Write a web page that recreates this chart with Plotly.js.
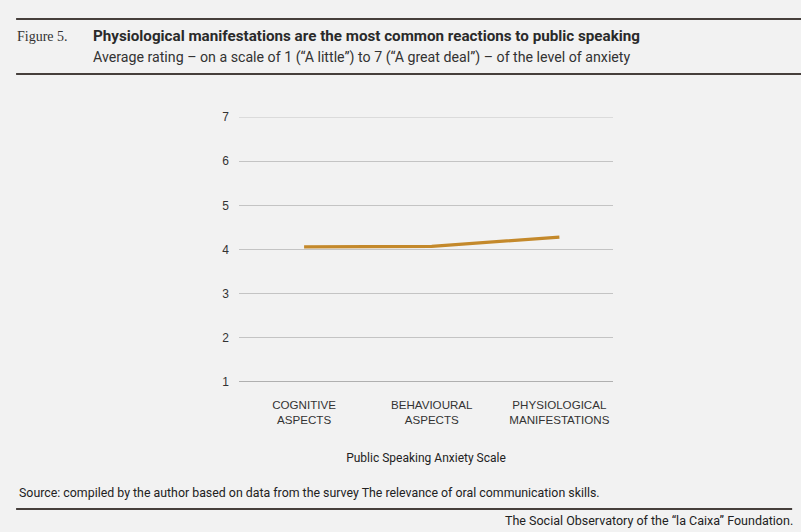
<!DOCTYPE html>
<html>
<head>
<meta charset="utf-8">
<script src="https://cdn.plot.ly/plotly-3.0.1.min.js"></script>
<style>
html,body{margin:0;padding:0;background:#f2f2f2;}
#chart{width:801px;height:532px;}
</style>
</head>
<body>
<div id="chart"></div>
<script>
const categories = ["COGNITIVE<br>ASPECTS", "BEHAVIOURAL<br>ASPECTS", "PHYSIOLOGICAL<br>MANIFESTATIONS"];
const values = [4.06, 4.07, 4.28];
const yTicks = [1, 2, 3, 4, 5, 6, 7];

const lineColor = "#c4892b";
const ruleColor = "#463f3c";

const trace = {
  x: [0, 1, 2],
  y: values,
  type: "scatter",
  mode: "lines",
  line: {color: lineColor, width: 3.2},
  hoverinfo: "none"
};

const layout = {
  width: 801,
  height: 532,
  paper_bgcolor: "#f2f2f2",
  plot_bgcolor: "#f2f2f2",
  showlegend: false,
  margin: {l: 239, r: 188, t: 117, b: 150, pad: 0},
  font: {family: "Liberation Sans, Arial, sans-serif", size: 12, color: "#333"},
  xaxis: {
    type: "linear",
    range: [-0.51, 2.42],
    tickvals: [0, 1, 2],
    ticktext: categories,
    showgrid: false,
    zeroline: false,
    showline: false,
    ticks: "",
    ticklabelstandoff: 14,
    tickfont: {family: "Liberation Sans, Arial, sans-serif", size: 11.6, color: "#333"},
    title: {text: "Public Speaking Anxiety Scale", font: {family: "Roboto, sans-serif", size: 12, color: "#222"}, standoff: 28}
  },
  yaxis: {
    range: [1, 7],
    tickvals: yTicks,
    showgrid: true,
    gridcolor: "#c4c4c4",
    gridwidth: 1,
    zeroline: false,
    showline: false,
    ticks: "",
    ticklabelstandoff: 9,
    tickfont: {family: "Liberation Sans, Arial, sans-serif", size: 12, color: "#333"}
  },
  shapes: [
    {type: "line", xref: "paper", yref: "y", x0: 0, x1: 1, y0: 7, y1: 7, line: {color: "#c4c4c4", width: 1}},
    {type: "line", xref: "paper", yref: "y", x0: 0, x1: 1, y0: 1, y1: 1, line: {color: "#9a9a9a", width: 1.5}},
    {type: "line", xref: "paper", yref: "paper", x0: -0.596, x1: 1.503, y0: 1.3698, y1: 1.3698, line: {color: ruleColor, width: 2.2}},
    {type: "line", xref: "paper", yref: "paper", x0: -0.596, x1: 1.503, y0: 1.1623, y1: 1.1623, line: {color: ruleColor, width: 2.2}},
    {type: "line", xref: "paper", yref: "paper", x0: -0.596, x1: 1.479, y0: -0.4792, y1: -0.4792, line: {color: ruleColor, width: 2.2}}
  ],
  annotations: [
    {xref: "paper", yref: "paper", x: -0.598, y: 1.3038, xanchor: "left", yanchor: "middle", showarrow: false,
     text: "Figure 5.", font: {family: "Liberation Serif, serif", size: 14, color: "#333"}},
    {xref: "paper", yref: "paper", x: -0.395, y: 1.3038, xanchor: "left", yanchor: "middle", showarrow: false,
     text: "<b>Physiological manifestations are the most common reactions to public speaking</b>",
     font: {family: "Roboto, sans-serif", size: 15.2, color: "#2a2a2a"}},
    {xref: "paper", yref: "paper", x: -0.395, y: 1.2264, xanchor: "left", yanchor: "middle", showarrow: false,
     text: "Average rating – on a scale of 1 (“A little”) to 7 (“A great deal”) – of the level of anxiety",
     font: {family: "Roboto, sans-serif", size: 14.2, color: "#333"}},
    {xref: "paper", yref: "paper", x: -0.593, y: -0.4189, xanchor: "left", yanchor: "middle", showarrow: false,
     text: "Source: compiled by the author based on data from the survey The relevance of oral communication skills.",
     font: {family: "Roboto, sans-serif", size: 12.36, color: "#222"}},
    {xref: "paper", yref: "paper", x: 1.487, y: -0.5208, xanchor: "right", yanchor: "middle", showarrow: false,
     text: "The Social Observatory of the “la Caixa” Foundation.",
     font: {family: "Roboto, sans-serif", size: 12.5, color: "#222"}}
  ]
};

Plotly.newPlot("chart", [trace], layout, {staticPlot: true, displayModeBar: false});
</script>
</body>
</html>
